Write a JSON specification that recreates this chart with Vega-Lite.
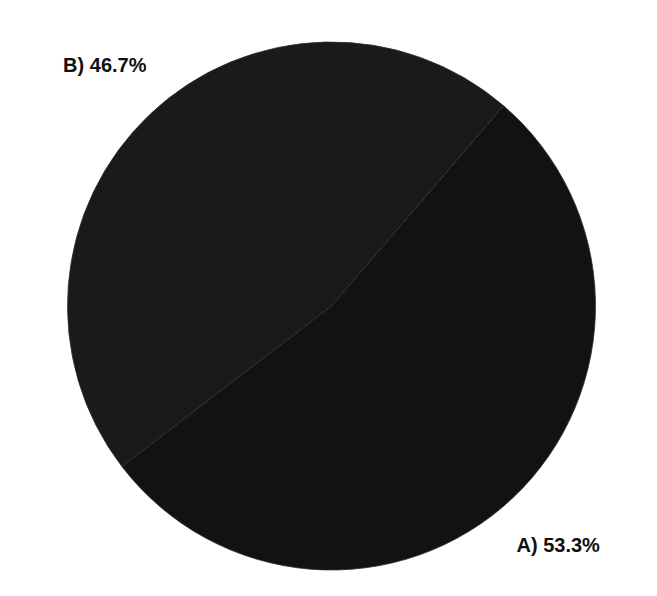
{
  "$schema": "https://vega.github.io/schema/vega-lite/v6.json",
  "width": 657,
  "height": 596,
  "autosize": {"type": "fit", "contains": "padding"},
  "padding": {"top": 16, "bottom": 0, "left": 6, "right": 0},
  "background": "white",
  "view": {"stroke": null},
  "data": {
    "values": [
      {"slice": "A", "label": "A) 53.3%", "value": 53.3, "order": 1},
      {"slice": "B", "label": "B) 46.7%", "value": 46.7, "order": 2}
    ]
  },
  "encoding": {
    "theta": {"field": "value", "type": "quantitative", "stack": true, "scale": {"range": [0.71, 6.993]}},
    "order": {"field": "order", "type": "quantitative"}
  },
  "layer": [
    {
      "mark": {"type": "arc", "outerRadius": 264, "stroke": "#2e2e2e", "strokeWidth": 0.8},
      "encoding": {
        "color": {"field": "slice", "type": "nominal", "scale": {"domain": ["A", "B"], "range": ["#121212", "#1a1a1a"]}, "legend": null}
      }
    },
    {
      "mark": {"type": "text", "radius": 330, "font": "Liberation Sans", "fontWeight": "bold", "fontSize": 20, "fill": "#111111"},
      "encoding": {"text": {"field": "label"}}
    }
  ]
}
